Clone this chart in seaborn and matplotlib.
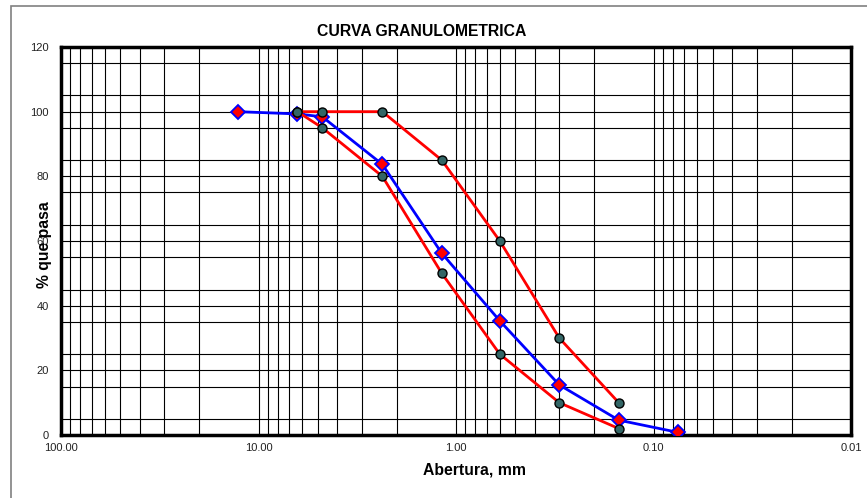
import matplotlib
matplotlib.use("Agg")
import matplotlib.pyplot as plt
import matplotlib.patches as mpatches
from matplotlib.ticker import FixedLocator, NullFormatter
import numpy as np
import pandas as pd
import seaborn as sns

# ---- data ----
sizes_mm = [12.7, 6.35, 4.75, 2.36, 1.18, 0.60, 0.30, 0.15, 0.075]
pct_sample = [100.0, 99.3, 98.4, 83.7, 56.2, 35.3, 15.5, 4.6, 0.8]

limit_sizes = [6.35, 4.75, 2.36, 1.18, 0.60, 0.30, 0.15]
pct_upper = [100, 100, 100, 85, 60, 30, 10]
pct_lower = [100, 95, 80, 50, 25, 10, 2]

x_tick_vals = [100, 10, 1, 0.1, 0.01]
x_tick_labels = ["100.00", "10.00", "1.00", "0.10", "0.01"]
y_tick_vals = [0, 20, 40, 60, 80, 100, 120]

sns.set_style("white")
plt.rcParams["font.family"] = ["Liberation Sans", "DejaVu Sans"]
plt.rcParams["text.color"] = "black"
plt.rcParams["axes.labelcolor"] = "black"

fig = plt.figure(figsize=(8.67, 4.98), dpi=100)
ax = fig.add_axes([61 / 867, 1 - 435 / 498, 790 / 867, 388 / 498])

df_s = pd.DataFrame({"x": sizes_mm, "y": pct_sample})
df_u = pd.DataFrame({"x": limit_sizes, "y": pct_upper})
df_l = pd.DataFrame({"x": limit_sizes, "y": pct_lower})

sns.lineplot(data=df_s, x="x", y="y", ax=ax, sort=False, color="#0000ff", lw=2.0,
             marker="D", markersize=7, markerfacecolor="#ff0000",
             markeredgecolor="#0000ff", markeredgewidth=1.3, zorder=5)
for d in (df_u, df_l):
    sns.lineplot(data=d, x="x", y="y", ax=ax, sort=False, color="#ff0000", lw=2.0,
                 marker="o", markersize=6.5, markerfacecolor="#336666",
                 markeredgecolor="black", markeredgewidth=1.0, zorder=6)

ax.set_xscale("log")
ax.set_xlim(100, 0.01)
ax.set_ylim(0, 120)

ax.xaxis.set_major_locator(FixedLocator(x_tick_vals))
ax.set_xticklabels(x_tick_labels)
minor_x = [m * 10.0 ** e for e in range(-2, 2) for m in range(2, 10)]
ax.xaxis.set_minor_locator(FixedLocator(minor_x))
ax.xaxis.set_minor_formatter(NullFormatter())
ax.set_yticks(y_tick_vals)
ax.yaxis.set_minor_locator(FixedLocator(list(range(5, 120, 10))))

ax.grid(True, which="both", axis="both", color="black", lw=0.8)
ax.set_axisbelow(True)

ax.tick_params(axis="both", which="both", length=0, labelsize=8, colors="#222222")
ax.tick_params(axis="x", pad=6)
ax.tick_params(axis="y", pad=9)

for s in ax.spines.values():
    s.set_visible(True)
    s.set_color("black")
    s.set_linewidth(2.5)

ax.set_xlabel("Abertura, mm", fontsize=11.3, fontweight="bold", color="black")
ax.xaxis.set_label_coords(0.523, -0.07)
ax.set_ylabel("% que pasa", fontsize=11.3, fontweight="bold", color="black")
ax.yaxis.set_label_coords(-0.012, 0.49)

fig.text(421.5 / 867, 1 - 36 / 498, "CURVA GRANULOMETRICA", fontsize=11.3,
         fontweight="bold", ha="center", va="baseline", color="black")

fig.patches.append(mpatches.Rectangle((11 / 867, -0.02), 1.0, 1 - 6 / 498 + 0.02,
                                      transform=fig.transFigure, fill=False,
                                      edgecolor="#808080", lw=1.2))

fig.savefig("out.png", dpi=100)
